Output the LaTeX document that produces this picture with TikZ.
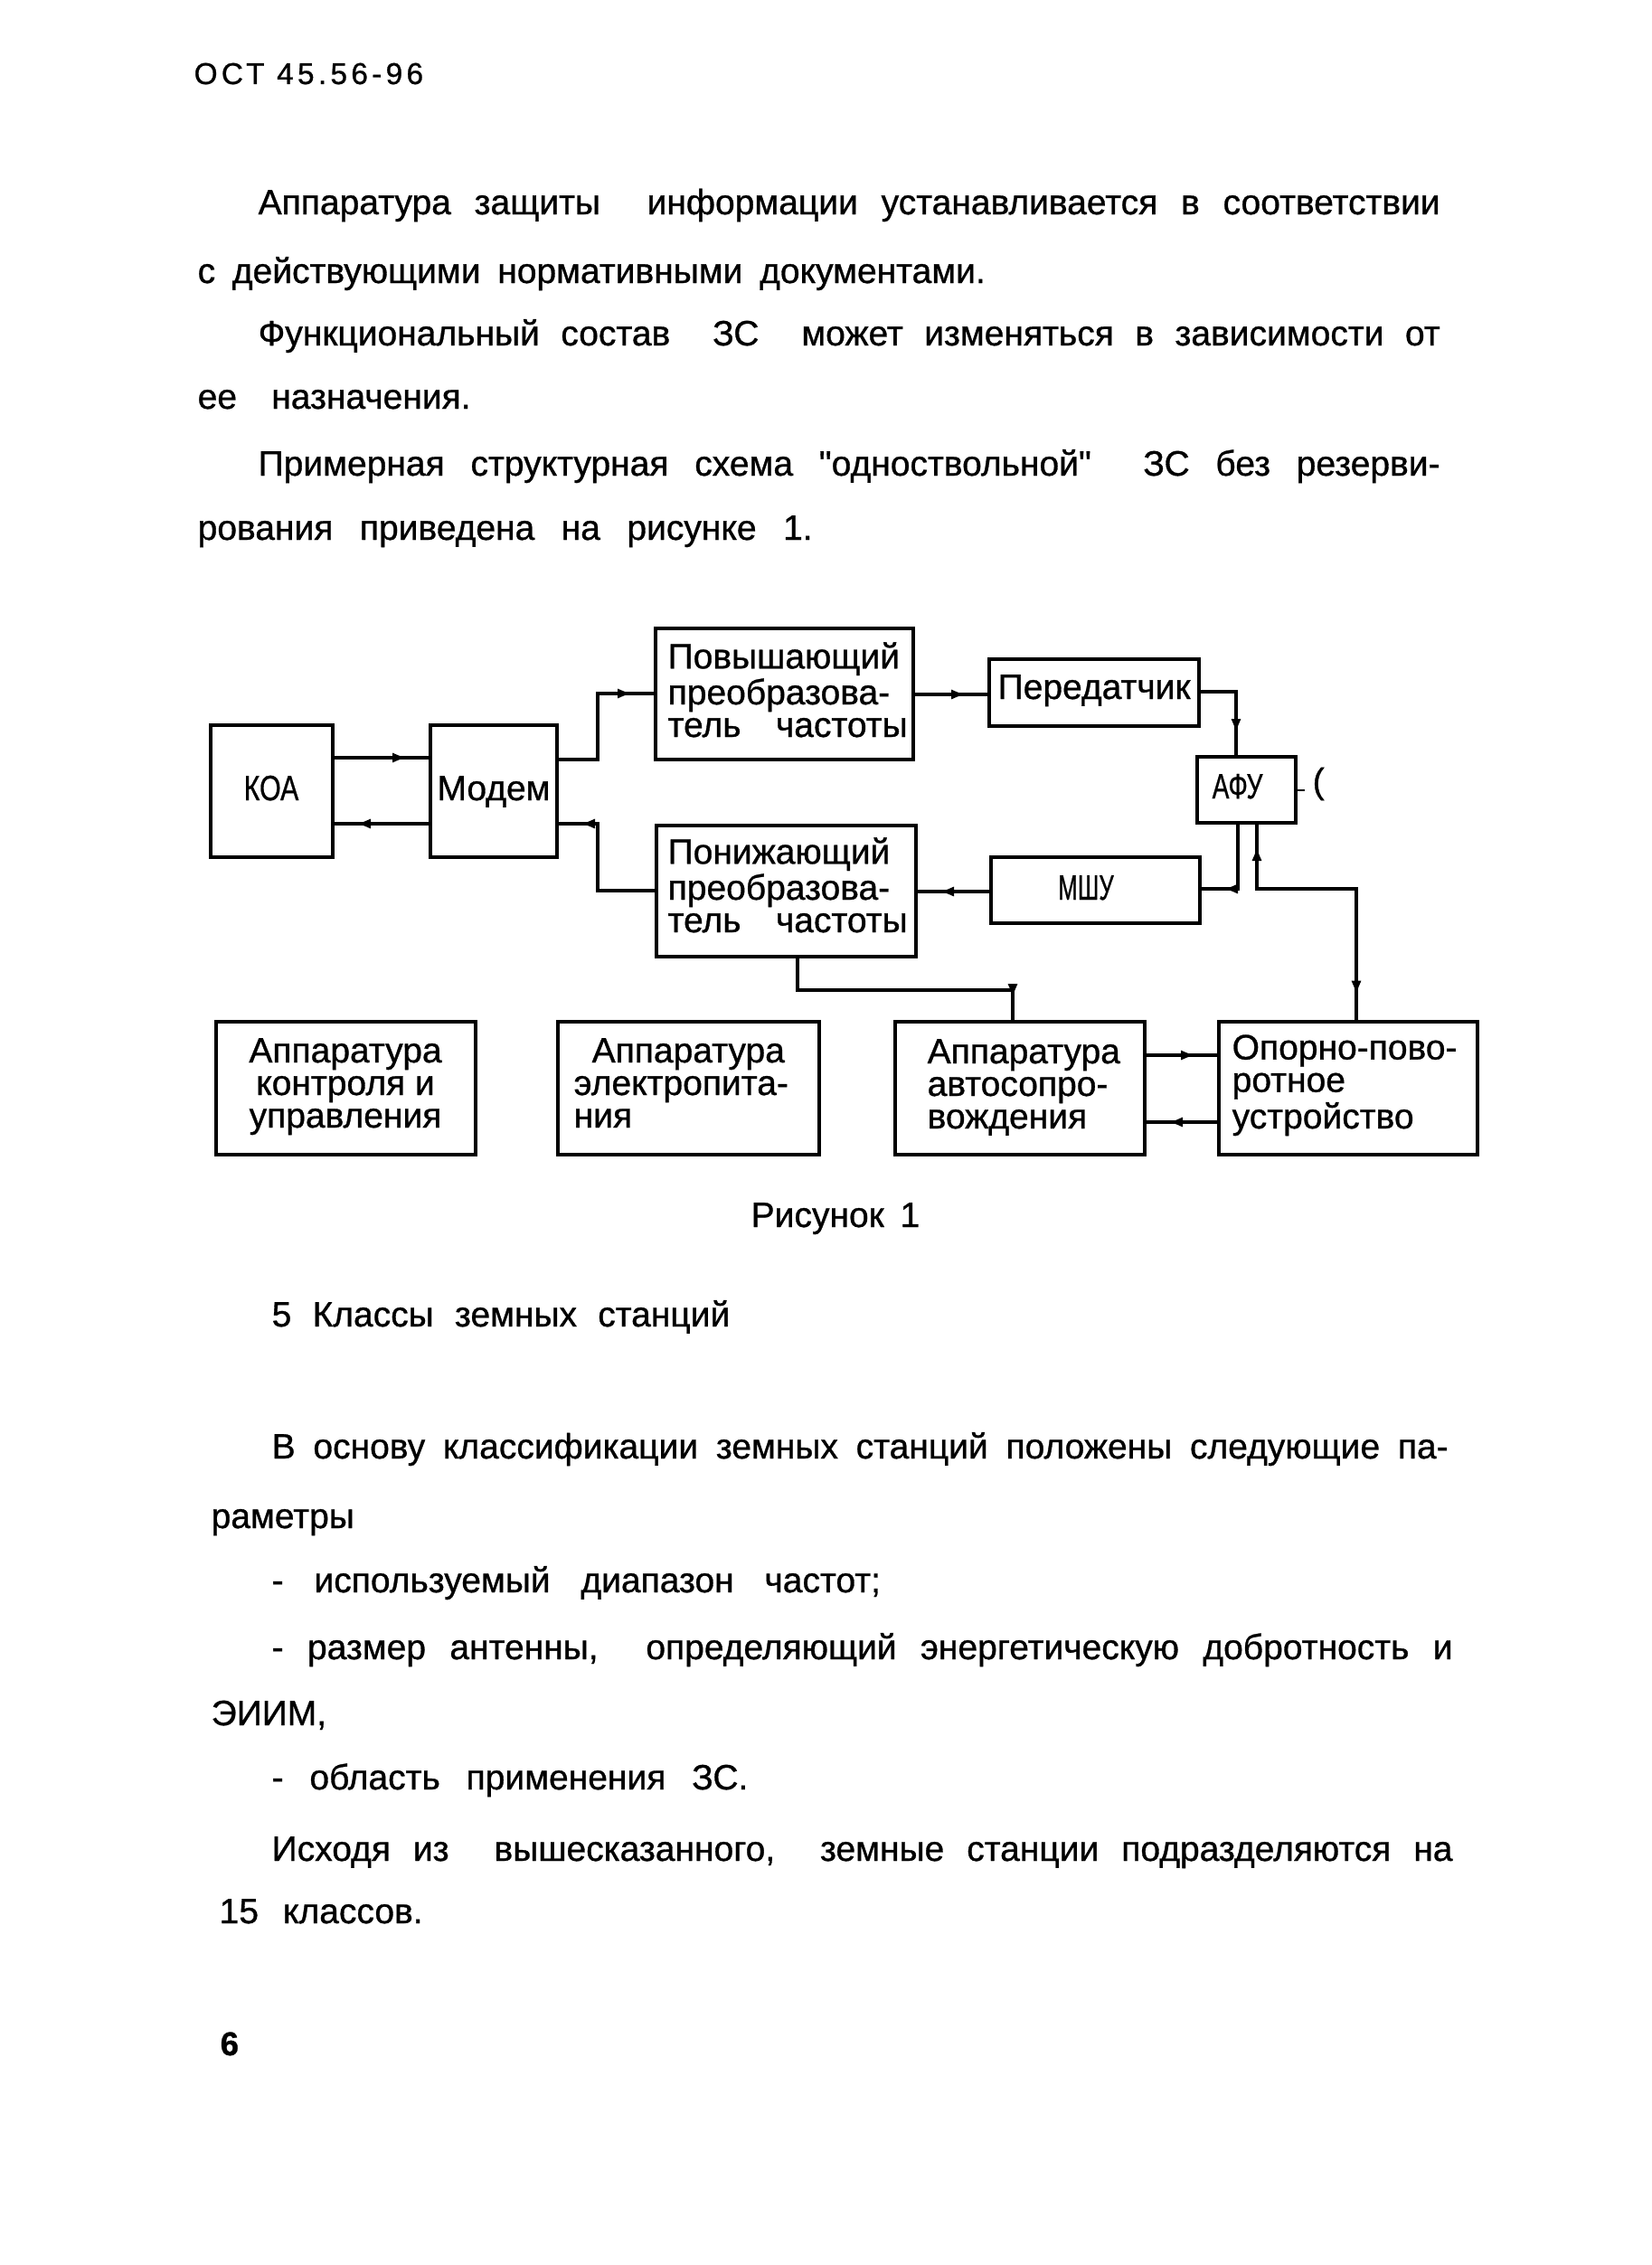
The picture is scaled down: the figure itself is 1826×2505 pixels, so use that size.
\documentclass[tikz,border=0pt]{standalone}
\usepackage{fontspec}
\setmainfont{Liberation Sans}[FakeBold=0.8]
\newfontfamily\qfont{Liberation Sans}[FakeBold=0.8]
\usetikzlibrary{arrows.meta,decorations.markings}
\newcommand\myfont{\fontsize{11.7pt}{10.8pt}\selectfont}
\newcommand\dq{{\qfont"}}
\tikzset{
  box/.style={draw, line width=1.2pt, rectangle, inner sep=0pt},
  conn/.style={line width=1.1pt},
  tip/.tip={Latex[length=5pt,width=3.4pt]},
  arrend/.style={postaction={decorate}, decoration={markings,
      mark=at position -7pt with {\arrow{tip}}}},
  arrboth/.style={postaction={decorate}, decoration={markings,
      mark=at position 8pt with {\arrowreversed{tip}},
      mark=at position -7pt with {\arrow{tip}}}},
  txt/.style={anchor=base west, inner sep=0pt, font=\myfont, align=left},
  ctxt/.style={anchor=base, inner sep=0pt, font=\myfont, align=center},
}
\begin{document}
\begin{tikzpicture}[x=0.3pt, y=-0.3pt]
\fill[white] (0,0) rectangle (1826,2505);
\useasboundingbox (0,0) rectangle (1826,2505);

% header and upper text
\node[txt] (hdr) at (214,93) {\fontsize{10pt}{12pt}\selectfont\addfontfeature{LetterSpace=13}ОСТ 45.56-96};
\node[txt] (p1) at (285,237) {\makebox[392.1pt][s]{Аппаратура защиты\ \ информации устанавливается в соответствии}};
\node[txt] (p2) at (218,313) {\makebox[261.3pt][s]{с действующими нормативными документами.}};
\node[txt] (p3) at (285,382) {\makebox[392.1pt][s]{Функциональный состав\ \ ЗС\ \ может изменяться в зависимости от}};
\node[txt] (p4) at (218,452) {\makebox[90.6pt][s]{ее назначения.}};
\node[txt] (p5) at (285,526) {\makebox[392.1pt][s]{Примерная структурная схема \dq одноствольной\dq\ \ ЗС без резерви-}};
\node[txt] (p6) at (218,597) {\makebox[204pt][s]{рования приведена на рисунке 1.}};

% boxes
\node[box, minimum width=40.5pt, minimum height=43.8pt] (koa) at (300.5,875) {};
\node[box, minimum width=42pt, minimum height=43.8pt] (modem) at (546,875) {};
\node[box, minimum width=85.5pt, minimum height=43.5pt] (up) at (867.5,767.5) {};
\node[box, minimum width=86.1pt, minimum height=43.5pt] (down) at (869.5,985.5) {};
\node[box, minimum width=69.6pt, minimum height=22.2pt] (per) at (1210,766) {};
\node[box, minimum width=69.3pt, minimum height=21.9pt] (mshu) at (1211.5,984.5) {};
\node[box, minimum width=32.7pt, minimum height=21.9pt] (afu) at (1378.5,873.5) {};
\node[box, minimum width=86.1pt, minimum height=44.1pt] (b1) at (382.5,1203.5) {};
\node[box, minimum width=86.7pt, minimum height=44.1pt] (b2) at (761.5,1203.5) {};
\node[box, minimum width=82.8pt, minimum height=44.1pt] (b3) at (1128,1203.5) {};
\node[box, minimum width=85.8pt, minimum height=44.1pt] (b4) at (1491,1203.5) {};

% box texts (base = last line)
\node[ctxt] (koa-t) at (300,885) {\scalebox{0.78}[1]{КОА}};
\node[ctxt] (modem-t) at (546,885) {Модем};
\node[txt] (up-t) at (738,815) {Повышающий\\преобразова-\\\makebox[79.5pt][s]{тель частоты}};
\node[txt] (down-t) at (738,1031) {Понижающий\\преобразова-\\\makebox[79.5pt][s]{тель частоты}};
\node[txt] (per-t) at (1103,773) {Передатчик};
\node[txt] (afu-t) at (1340,883) {\scalebox{0.72}[1]{АФУ}};
\node[ctxt] (mshu-t) at (1201,995) {\scalebox{0.66}[1]{МШУ}};
\node[ctxt] (b1-t) at (382,1247) {Аппаратура\\контроля и\\управления};
\node[txt] (b2-t) at (634,1247) {\hspace*{6pt}Аппаратура\\электропита-\\ния};
\node[txt] (b3-t) at (1025,1248) {Аппаратура\\автосопро-\\вождения};
\node[txt] (b4-t) at (1362,1248) {Опорно-пово-\\ротное\\устройство};
\node[anchor=west, inner sep=0pt, font=\myfont] (par) at (1451,867) {(};

% connectors
\draw[conn, arrend] (koa.east |- 0,838) -- (modem.west |- 0,838);
\draw[conn, arrend] (modem.west |- 0,911) -- (koa.east |- 0,911);
\draw[conn, arrend] (modem.east |- 0,840) -| (661,767) -- (up.west |- 0,767);
\draw[conn, arrend] (down.west |- 0,985) -| (661,911) -- (modem.east |- 0,911);
\draw[conn, arrend] (up.east |- 0,768) -- (per.west |- 0,768);
\draw[conn, arrend] (per.east |- 0,765) -| (afu.north -| 1367,0);
\draw[conn, arrend] (afu.south -| 1369,0) |- (mshu.east |- 0,983);
\draw[conn, arrend] (mshu.west |- 0,986) -- (down.east |- 0,986);
\draw[conn, arrboth] (b4.north -| 1500,0) |- (1390,983) -- (afu.south -| 1390,0);
\draw[conn, arrend] (down.south -| 882,0) |- (1120,1095) -- (b3.north -| 1120,0);
\draw[conn, arrend] (b3.east |- 0,1167) -- (b4.west |- 0,1167);
\draw[conn, arrend] (b4.west |- 0,1241) -- (b3.east |- 0,1241);
\draw[line width=0.6pt, shorten >=2.5pt] (afu.east) -- (afu.east -| par.west);

% lower text
\node[txt] (cap) at (830,1357) {\makebox[56pt][s]{Рисунок 1}};
\node[txt] (sec) at (300,1467) {\makebox[152pt][s]{5 Классы земных станций}};
\node[txt] (l1) at (300,1613) {\makebox[390.3pt][s]{В основу классификации земных станций положены следующие па-}};
\node[txt] (l2) at (233,1690) {раметры};
\node[txt] (l3) at (300,1761) {\makebox[202pt][s]{- используемый диапазон частот;}};
\node[txt] (l4) at (300,1835) {\makebox[391.8pt][s]{- размер антенны,\ \ определяющий энергетическую добротность и}};
\node[txt] (l5) at (233,1908) {ЭИИМ,};
\node[txt] (l6) at (300,1979) {\makebox[158pt][s]{- область применения ЗС.}};
\node[txt] (l7) at (300,2058) {\makebox[391.8pt][s]{Исходя из\ \ вышесказанного,\ \ земные станции подразделяются на}};
\node[txt] (l8) at (242,2127) {\makebox[67.5pt][s]{15 классов.}};
\node[txt, font=\fontsize{11pt}{13pt}\selectfont\bfseries] (pg) at (243,2273) {6};
\end{tikzpicture}
\end{document}
